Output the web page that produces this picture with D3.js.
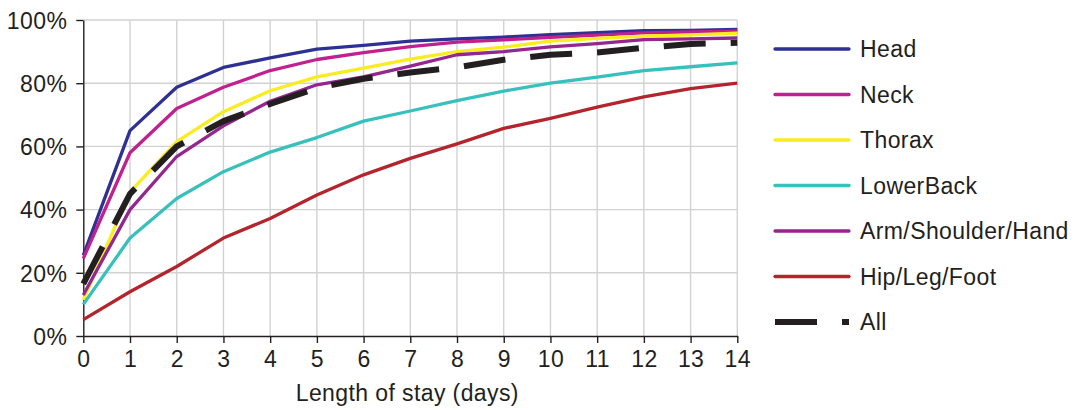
<!DOCTYPE html>
<html>
<head>
<meta charset="utf-8">
<script src="https://cdn.jsdelivr.net/npm/d3@7"></script>
<style>
  html, body { margin: 0; padding: 0; background: #fff; }
  svg { display: block; font-family: "Liberation Sans", Arial, Helvetica, sans-serif; }
</style>
</head>
<body>
<svg id="chart" width="1075" height="410"></svg>
<script>
const days = [0,1,2,3,4,5,6,7,8,9,10,11,12,13,14];
const seriesNames = ["Head","Neck","Thorax","LowerBack","Arm/Shoulder/Hand","Hip/Leg/Foot","All"];
const seriesColors = ["#2e3192","#c0218f","#f9ec1f","#38c0bd","#93278f","#b3242d","#231f20"];
const head      = [25.5, 65, 78.7, 85, 88, 90.8, 92, 93.3, 94, 94.6, 95.4, 96, 96.6, 96.7, 97];
const neck      = [24.5, 58, 72, 78.7, 84, 87.5, 89.7, 91.6, 93, 93.7, 94.5, 95.2, 95.9, 96.2, 96.5];
const thorax    = [11.4, 45.5, 61.5, 71, 77.6, 82, 84.8, 87.6, 90, 91.4, 93.3, 94.2, 94.9, 95.3, 95.8];
const lowerBack = [10, 31, 43.5, 52, 58.2, 62.8, 68, 71.2, 74.5, 77.5, 80, 81.9, 84, 85.2, 86.4];
const arm       = [13, 40, 56.8, 66.5, 74.3, 79.5, 82, 85.4, 89, 90, 91.5, 92.5, 93.8, 94, 94.3];
const hip       = [5.2, 14, 22, 31, 37.2, 44.6, 51, 56.2, 60.8, 65.7, 68.9, 72.4, 75.7, 78.3, 80];
const all       = [16.5, 45, 60, 68, 73.4, 78.5, 81.4, 83.4, 85, 87.4, 89, 89.7, 91.2, 92.4, 92.8];
const yTicks = [0, 20, 40, 60, 80, 100];
const xAxisTitle = "Length of stay (days)";

const seriesValues = [head, neck, thorax, lowerBack, arm, hip, all];

const FS = 23, LS = "0.4px";
const svg = d3.select("#chart");
const x = d3.scaleLinear().domain([0, 14]).range([83.3, 737.3]);
const y = d3.scaleLinear().domain([0, 100]).range([336, 20]);

// grid
const grid = svg.append("g");
grid.selectAll("line.v").data(days.slice(1)).join("line")
  .attr("x1", d => x(d)).attr("x2", d => x(d))
  .attr("y1", y(0)).attr("y2", y(100))
  .attr("stroke", "#d2d2d2").attr("stroke-width", 1.4);
grid.selectAll("line.h").data(yTicks.slice(1)).join("line")
  .attr("x1", x(0)).attr("x2", x(14))
  .attr("y1", d => y(d)).attr("y2", d => y(d))
  .attr("stroke", "#d2d2d2").attr("stroke-width", 1.4);

// axes
const yAxis = d3.axisLeft(y).tickValues(yTicks).tickFormat(d => d + "%").tickSizeInner(7).tickSizeOuter(0).tickPadding(9);
const gy = svg.append("g").attr("transform", `translate(${x(0)},0)`).call(yAxis);
const xAxis = d3.axisBottom(x).tickValues(days).tickFormat(d3.format("d")).tickSizeInner(7).tickSizeOuter(0).tickPadding(8);
const gx = svg.append("g").attr("transform", `translate(0,${y(0)})`).call(xAxis);
[gx, gy].forEach(g => {
  g.select(".domain").attr("stroke", "#231f20").attr("stroke-width", 1.4);
  g.selectAll(".tick line").attr("stroke", "#231f20").attr("stroke-width", 1.4);
  g.selectAll(".tick text").attr("fill", "#231f20").attr("font-size", FS)
    .attr("letter-spacing", LS)
    .attr("font-family", "'Liberation Sans', Arial, sans-serif");
});
gy.selectAll(".tick text").attr("dy", "0.36em");
gx.selectAll(".tick text").attr("dy", "0.7em");

svg.append("text").attr("x", (x(0) + x(14)) / 2 - 3).attr("y", 401)
  .attr("text-anchor", "middle").attr("font-size", FS).attr("letter-spacing", LS)
  .attr("fill", "#231f20")
  .text(xAxisTitle);

// lines
const line = d3.line().x((d, i) => x(days[i])).y(d => y(d));
seriesValues.forEach((vals, k) => {
  const isAll = k === 6;
  svg.append("path").datum(vals)
    .attr("d", line)
    .attr("fill", "none")
    .attr("stroke", seriesColors[k])
    .attr("stroke-width", isAll ? 6 : 3.3)
    .attr("stroke-linejoin", "round")
    .attr("stroke-dasharray", isAll ? "42,25" : null);
});

// legend
const legend = svg.append("g");
seriesNames.forEach((name, k) => {
  const isAll = k === 6;
  const cy = 49 + k * 45.5;
  legend.append("line")
    .attr("x1", 775).attr("x2", 849)
    .attr("y1", cy).attr("y2", cy)
    .attr("stroke", seriesColors[k])
    .attr("stroke-width", isAll ? 6 : 3.3)
    .attr("stroke-linecap", isAll ? "butt" : "round")
    .attr("stroke-dasharray", isAll ? "42,25" : null);
  legend.append("text").attr("x", 860).attr("y", cy).attr("dy", "0.36em")
    .attr("font-size", FS).attr("letter-spacing", LS)
    .attr("fill", "#231f20").text(name);
});
</script>
</body>
</html>
